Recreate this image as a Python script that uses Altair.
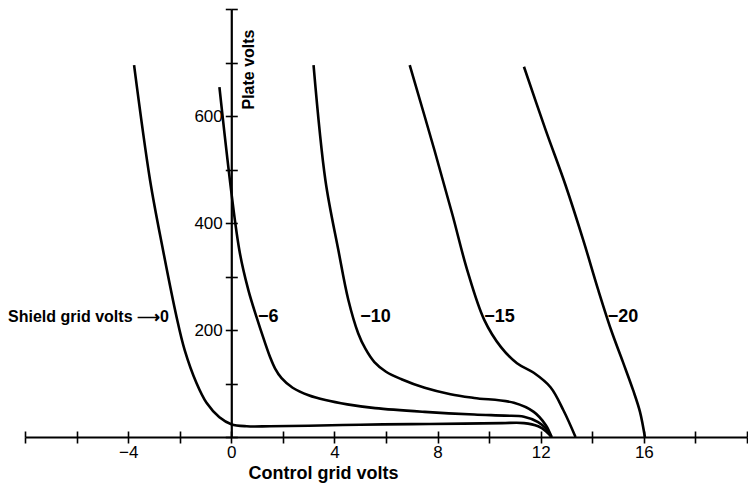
import altair as alt
import pandas as pd

# ---- data (x: control grid volts, y: plate volts) ----
c0_x = [-3.77, -3.15, -2.65, -2.12, -1.81, -1.35, -0.96, -0.46, 0.0, 0.6, 1.5, 3.0, 5.0, 7.0, 9.0, 10.5, 11.35, 11.9, 12.2, 12.42]
c0_y = [695, 480, 350, 224, 163, 101, 64, 37, 24, 20, 20, 21, 23, 24, 25, 26, 26, 20, 11, 0]

c6_x = [-0.46, 0.31, 0.66, 0.98, 1.28, 1.5, 1.7, 1.95, 2.38, 3.0, 3.65, 4.5, 5.58, 7.5, 9.42, 10.6, 11.35, 11.9, 12.2, 12.42]
c6_y = [654, 350, 275, 224, 180, 150, 128, 110, 92, 78, 69, 61, 54, 47, 42, 40, 38, 28, 16, 0]

c10_x = [3.19, 3.65, 4.15, 4.54, 4.92, 5.2, 5.55, 6.0, 6.6, 7.5, 8.5, 9.42, 10.96, 11.73, 12.2, 12.42]
c10_y = [695, 480, 350, 256, 194, 165, 140, 122, 108, 92, 80, 73, 64, 47, 22, 0]

c15_x = [6.92, 7.88, 8.58, 9.15, 9.81, 10.46, 11.08, 11.73, 12.38, 12.88, 13.35]
c15_y = [695, 536, 415, 312, 219, 168, 138, 120, 93, 50, 0]

c20_x = [11.35, 12.19, 12.96, 13.65, 14.23, 14.73, 15.19, 15.58, 15.85, 16.04]
c20_y = [692, 574, 471, 368, 275, 200, 140, 88, 47, 0]

series_names = ["0", "-6", "-10", "-15", "-20"]

# curve labels
lab_text = ["\u22126", "\u221210", "\u221215", "\u221220"]
lab_x = [1.04, 5.0, 9.81, 14.6]
lab_y = [224, 224, 224, 224]
shield_text = ["Shield grid volts \u27f60"]
shield_x = [-2.42]
shield_y = [224]

x_ticks = list(range(-8, 21, 2))
y_ticks = list(range(0, 801, 100))

# ---- build tables ----
rows = []
for name, xs, ys in zip(series_names, [c0_x, c6_x, c10_x, c15_x, c20_x], [c0_y, c6_y, c10_y, c15_y, c20_y]):
    for i, (a, b) in enumerate(zip(xs, ys)):
        rows.append({"series": name, "x": a, "y": b, "i": i})
df = pd.DataFrame(rows)
df_lab = pd.DataFrame({"t": lab_text, "x": lab_x, "y": lab_y})
df_sh = pd.DataFrame({"t": shield_text, "x": shield_x, "y": shield_y})

W = 722
H = 428
X0 = 8 * W / 28.0  # pixel position of x = 0 inside the plot

FONT = "Liberation Sans"

xscale = alt.Scale(domain=[-8, 20], nice=False, zero=False)
yscale = alt.Scale(domain=[0, 800], nice=False, zero=False)

x_label_expr = ("(datum.value % 4 == 0 && datum.value > -8 && datum.value < 20) ? "
                "replace(format(datum.value, 'd'), '-', '\u2212') : ''")
y_label_expr = "(datum.value == 200 || datum.value == 400 || datum.value == 600) ? datum.label : ''"

lines = alt.Chart(df).mark_line(color="black", strokeWidth=2.6, interpolate="catmull-rom").encode(
    x=alt.X("x:Q", scale=xscale,
            axis=alt.Axis(orient="bottom", values=x_ticks, tickSize=6, tickWidth=1.6,
                          domainWidth=2.2, labelExpr=x_label_expr, labelFontSize=17,
                          labelPadding=1, labelFont=FONT, title="Control grid volts",
                          titleFont=FONT, titleFontSize=18, titleFontWeight="bold",
                          titleX=298, titleY=36, titleBaseline="middle",
                          titleAlign="center", labelFlush=False, labelOverlap=False)),
    y=alt.Y("y:Q", scale=yscale,
            axis=alt.Axis(orient="left", offset=-X0, values=y_ticks, tickSize=6,
                          tickWidth=1.6, domainWidth=2.2, labelExpr=y_label_expr,
                          labelFontSize=17, labelPadding=3, labelFont=FONT, title=None,
                          labelFlush=False, labelOverlap=False)),
    detail="series:N",
    order="i:Q",
)

labels = alt.Chart(df_lab).mark_text(align="left", baseline="middle", font=FONT,
                                     fontSize=18, fontWeight="bold", color="black").encode(
    x=alt.X("x:Q", scale=xscale,
            axis=alt.Axis(orient="top", offset=-H, values=x_ticks, tickSize=6,
                          tickWidth=1.6, domain=False, labels=False, title=None)),
    y=alt.Y("y:Q", scale=yscale,
            axis=alt.Axis(orient="right", offset=-(W - X0), values=y_ticks, tickSize=6,
                          tickWidth=1.6, domain=False, labels=False, title="Plate volts",
                          titleFont=FONT, titleFontSize=16, titleFontWeight="bold",
                          titleAngle=270, titleX=17, titleY=60, titleAlign="center",
                          titleBaseline="middle")),
    text="t:N",
)

shield = alt.Chart(df_sh).mark_text(align="right", baseline="middle", font=FONT,
                                    fontSize=16, fontWeight="bold", color="black").encode(
    x=alt.X("x:Q", scale=xscale),
    y=alt.Y("y:Q", scale=yscale),
    text="t:N",
)

chart = alt.layer(lines, alt.layer(labels, shield)).resolve_scale(
    x="independent", y="independent"
).properties(
    width=W, height=H,
    padding={"left": 17, "top": 1, "right": 1, "bottom": 52},
    autosize=alt.AutoSizeParams(type="none"),
).configure_view(stroke=None).configure_axis(
    grid=False, domainColor="black", tickColor="black", labelColor="black", titleColor="black"
)

chart.save("out.html", embed_options={"renderer": "svg", "actions": False})
